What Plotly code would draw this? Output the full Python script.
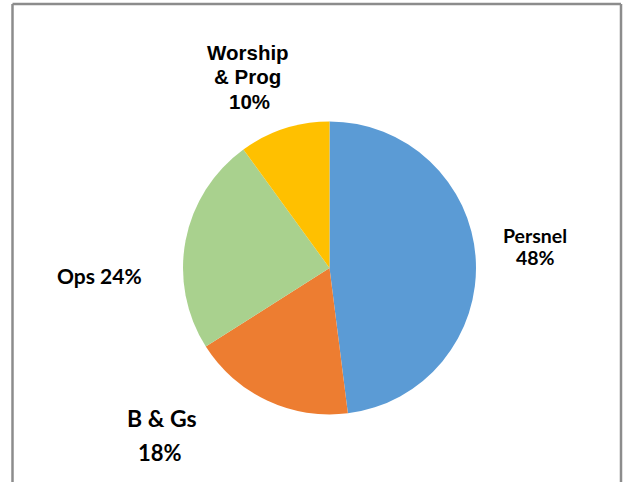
import plotly.graph_objects as go

# Data
categories = ["Persnel", "B & Gs", "Ops", "Worship & Prog"]
values = [48, 18, 24, 10]
colors = ["#5B9BD5", "#ED7D31", "#A9D18E", "#FFC000"]

W, H = 624, 482
total = sum(values)
pct = [f"{round(v / total * 100)}%" for v in values]

def px(x):
    return x / W

def py(y):
    return 1 - y / H

# pie geometry (pixels)
cx, cy, r = 329.5, 268, 146.5

fig = go.Figure(go.Pie(
    labels=categories,
    values=values,
    marker=dict(colors=colors, line=dict(width=0)),
    sort=False,
    direction="clockwise",
    rotation=0,
    textinfo="none",
    hoverinfo="label+percent",
    showlegend=False,
    domain=dict(x=[px(cx - r), px(cx + r)], y=[py(cy + r), py(cy - r)]),
))

arial = "Liberation Sans, Arial, sans-serif"
calib = "Lato, Carlito, Calibri, sans-serif"

# label lines: (text, x_px, y_px, size, family)
lines = [
    (categories[0], 535, 235, 19.5, calib),
    (pct[0], 535, 257, 19.5, calib),
    (categories[1], 162, 418, 23, calib),
    (pct[1], 160, 452, 22, calib),
    (f"{categories[2]} {pct[2]}", 99, 275, 21, calib),
    (categories[3].split(" ", 1)[0], 248, 52, 20.5, arial),
    (categories[3].split(" ", 1)[1], 247, 76, 20.5, arial),
    (pct[3], 249, 101, 20.5, arial),
]

annotations = []
for text, x, y, size, fam in lines:
    annotations.append(dict(
        text=f"<b>{text}</b>", x=px(x), y=py(y), xref="paper", yref="paper",
        showarrow=False, xanchor="center", yanchor="middle",
        font=dict(size=size, family=fam, color="#000000"),
    ))

# chart-area border: left, top and right edges (bottom edge lies below the picture)
bx0, bx1, by0 = 12.5, 621, 4
border = [
    dict(type="line", xref="paper", yref="paper", x0=px(bx0), x1=px(bx0), y0=0, y1=py(by0)),
    dict(type="line", xref="paper", yref="paper", x0=px(bx0), x1=px(bx1), y0=py(by0), y1=py(by0)),
    dict(type="line", xref="paper", yref="paper", x0=px(bx1), x1=px(bx1), y0=0, y1=py(by0)),
]
for s in border:
    s["line"] = dict(color="#8C8C8C", width=2.5)

fig.update_layout(
    width=W, height=H,
    margin=dict(l=0, r=0, t=0, b=0),
    paper_bgcolor="white",
    plot_bgcolor="white",
    annotations=annotations,
    shapes=border,
)

fig.write_html(
    "out.html",
    config={"displayModeBar": False},
    post_script="document.body.style.margin='0';document.body.style.overflow='hidden';",
)
